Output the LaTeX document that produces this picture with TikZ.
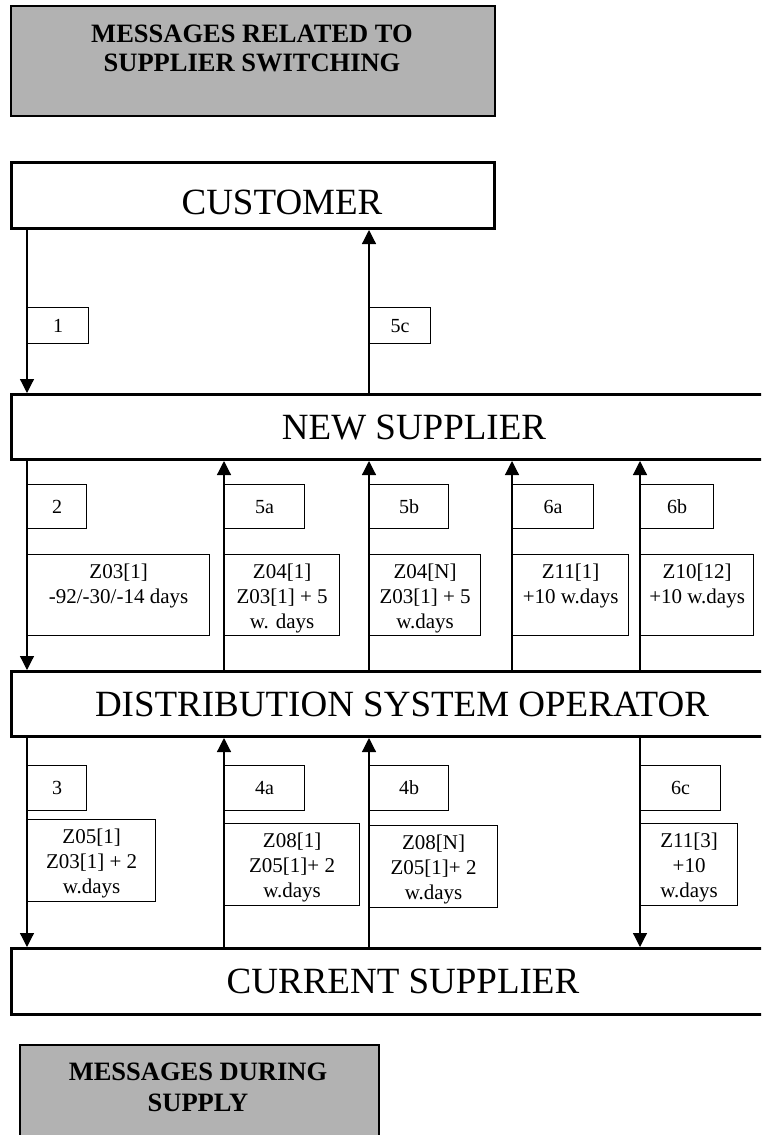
\documentclass[tikz,border=0pt]{standalone}
\usepackage{fontspec}
\setmainfont{Liberation Serif}
\usetikzlibrary{arrows.meta}
\definecolor{boxgray}{RGB}{178,178,178}
\begin{document}
\begin{tikzpicture}[x=1pt,y=-1pt,
  bigbox/.style={draw, line width=3pt, anchor=north west, inner sep=0pt},
  graybox/.style={draw, line width=2pt, fill=boxgray, anchor=north west, inner sep=0pt},
  lblbox/.style={draw, line width=1.2pt, anchor=north west, inner sep=0pt, font=\fontsize{20}{24}\selectfont},
  msgbox/.style={draw, line width=1.2pt, anchor=north west, inner sep=0pt},
  msgtext/.style={anchor=north, inner sep=0pt, align=center, font=\fontsize{21}{25}\selectfont, yshift=-10pt},
  bigtext/.style={font=\fontsize{37}{40}\selectfont, inner sep=0pt},
  titletext/.style={font=\bfseries\fontsize{26.5}{29}\selectfont, align=center, inner sep=0pt},
  arr/.style={line width=1.2pt, -{Triangle[length=14pt,width=14pt]}}]
\useasboundingbox (0,0) rectangle (761,1135);
\clip (0,0) rectangle (761,1135);

% column positions
\coordinate (cA) at (27,0);
\coordinate (cB) at (224,0);
\coordinate (cC) at (369,0);
\coordinate (cD) at (512,0);
\coordinate (cE) at (640,0);

% title boxes
\node[graybox, minimum width=484pt, minimum height=110pt] (t1) at (10,5) {};
\node[titletext] (t1txt) at (252,48.5) {MESSAGES RELATED TO\\SUPPLIER SWITCHING};
\node[graybox, minimum width=359pt, minimum height=120pt] (t2) at (19,1044) {};
\node[titletext, font=\bfseries\fontsize{26.5}{31}\selectfont] (t2txt) at (198,1087.5) {MESSAGES DURING\\SUPPLY};

% main boxes
\node[bigbox, minimum width=483pt, minimum height=66pt] (cust) at (10,161) {};
\node[bigtext] (custtxt) at (282,202) {CUSTOMER};
\node[bigbox, minimum width=770pt, minimum height=65pt] (ns) at (10,393) {};
\node[bigtext] (nstxt) at (414,428) {NEW SUPPLIER};
\node[bigbox, minimum width=770pt, minimum height=65pt] (dso) at (10,670) {};
\node[bigtext] (dsotxt) at (402,704) {DISTRIBUTION SYSTEM OPERATOR};
\node[bigbox, minimum width=770pt, minimum height=66pt] (cs) at (10,947) {};
\node[bigtext] (cstxt) at (403,981) {CURRENT SUPPLIER};

% arrows customer / new supplier
\draw[arr] (cust.south -| cA) -- (ns.north -| cA);
\draw[arr] (ns.north -| cC) -- (cust.south -| cC);
% arrows new supplier / DSO
\draw[arr] (ns.south -| cA) -- (dso.north -| cA);
\draw[arr] (dso.north -| cB) -- (ns.south -| cB);
\draw[arr] (dso.north -| cC) -- (ns.south -| cC);
\draw[arr] (dso.north -| cD) -- (ns.south -| cD);
\draw[arr] (dso.north -| cE) -- (ns.south -| cE);
% arrows DSO / current supplier
\draw[arr] (dso.south -| cA) -- (cs.north -| cA);
\draw[arr] (cs.north -| cB) -- (dso.south -| cB);
\draw[arr] (cs.north -| cC) -- (dso.south -| cC);
\draw[arr] (dso.south -| cE) -- (cs.north -| cE);

% number labels, upper
\node[lblbox, minimum width=61pt, minimum height=36pt] (l1) at (27,307) {1};
\node[lblbox, minimum width=61pt, minimum height=36pt] (l5c) at (369,307) {5c};
% number labels, middle
\node[lblbox, minimum width=59pt, minimum height=44pt] (l2) at (27,484) {2};
\node[lblbox, minimum width=80pt, minimum height=44pt] (l5a) at (224,484) {5a};
\node[lblbox, minimum width=79pt, minimum height=44pt] (l5b) at (369,484) {5b};
\node[lblbox, minimum width=81pt, minimum height=44pt] (l6a) at (512,484) {6a};
\node[lblbox, minimum width=73pt, minimum height=44pt] (l6b) at (640,484) {6b};
% number labels, lower
\node[lblbox, minimum width=59pt, minimum height=45pt] (l3) at (27,765) {3};
\node[lblbox, minimum width=80pt, minimum height=45pt] (l4a) at (224,765) {4a};
\node[lblbox, minimum width=79pt, minimum height=45pt] (l4b) at (369,765) {4b};
\node[lblbox, minimum width=80pt, minimum height=45pt] (l6c) at (640,765) {6c};

% message boxes, middle
\node[msgbox, minimum width=182pt, minimum height=81pt] (m2) at (27,554) {};
\node[msgtext] (m2t) at (m2.north) {Z03[1]\\-92/-30/-14 days};
\node[msgbox, minimum width=115pt, minimum height=81pt] (m5a) at (224,554) {};
\node[msgtext] (m5at) at (m5a.north) {Z04[1]\\Z03[1] + 5\\w. days};
\node[msgbox, minimum width=111pt, minimum height=81pt] (m5b) at (369,554) {};
\node[msgtext] (m5bt) at (m5b.north) {Z04[N]\\Z03[1] + 5\\w.days};
\node[msgbox, minimum width=116pt, minimum height=81pt] (m6a) at (512,554) {};
\node[msgtext] (m6at) at (m6a.north) {Z11[1]\\+10 w.days};
\node[msgbox, minimum width=113pt, minimum height=81pt] (m6b) at (640,554) {};
\node[msgtext] (m6bt) at (m6b.north) {Z10[12]\\+10 w.days};

% message boxes, lower
\node[msgbox, minimum width=128pt, minimum height=82pt] (m3) at (27,819) {};
\node[msgtext] (m3t) at (m3.north) {Z05[1]\\Z03[1] + 2\\w.days};
\node[msgbox, minimum width=135pt, minimum height=82pt] (m4a) at (224,823) {};
\node[msgtext] (m4at) at (m4a.north) {Z08[1]\\Z05[1]+ 2\\w.days};
\node[msgbox, minimum width=128pt, minimum height=82pt] (m4b) at (369,825) {};
\node[msgtext] (m4bt) at (m4b.north) {Z08[N]\\Z05[1]+ 2\\w.days};
\node[msgbox, minimum width=97pt, minimum height=82pt] (m6c) at (640,823) {};
\node[msgtext] (m6ct) at (m6c.north) {Z11[3]\\+10\\w.days};
\end{tikzpicture}
\end{document}
